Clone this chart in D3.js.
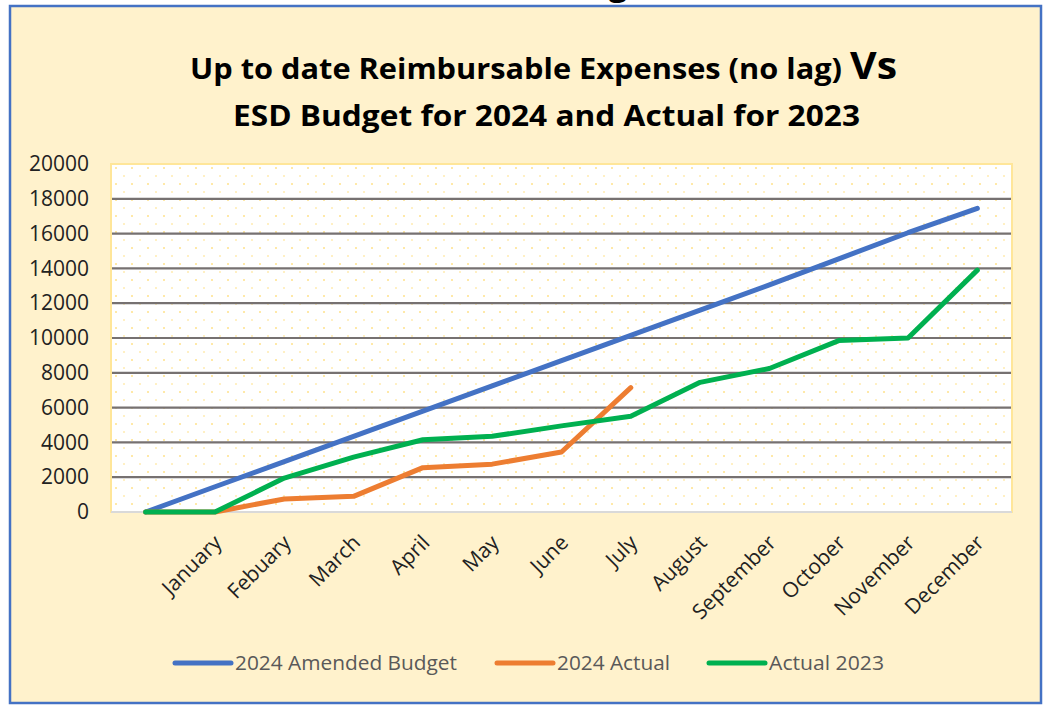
<!DOCTYPE html>
<html>
<head>
<meta charset="utf-8">
<script src="https://cdn.jsdelivr.net/npm/d3@7"></script>
<style>
  html, body { margin: 0; padding: 0; background: #fff; }
  svg { display: block; font-family: "Open Sans", "Noto Sans", sans-serif; }
</style>
</head>
<body>
<svg id="chart" width="1051" height="706"></svg>
<script>
// categories (first one is a blank starting point)
var months = ["", "January", "Febuary", "March", "April", "May", "June", "July",
  "August", "September", "October", "November", "December"];

var budget2024 = [0, 1450, 2900, 4350, 5800, 7250, 8700, 10150, 11600, 13050, 14550, 16050, 17450];
var actual2024 = [0, 0, 750, 900, 2550, 2750, 3450, 7150];
var actual2023 = [0, 0, 1950, 3150, 4150, 4350, 4950, 5500, 7450, 8250, 9850, 10000, 13900];

var yTicks = [0, 2000, 4000, 6000, 8000, 10000, 12000, 14000, 16000, 18000, 20000];

var seriesNames = ["2024 Amended Budget", "2024 Actual", "Actual 2023"];
var seriesColors = ["#4472C4", "#ED7D31", "#00B050"];

var svg = d3.select("#chart");

// outer chart area
svg.append("rect")
  .attr("x", 10).attr("y", 6)
  .attr("width", 1031).attr("height", 697)
  .attr("fill", "#FFF2CC")
  .attr("stroke", "#4472C4")
  .attr("stroke-width", 2.5);

// cut-off text above the chart (only its descender shows)
svg.append("text")
  .attr("x", 618).attr("y", -5)
  .attr("text-anchor", "middle")
  .attr("font-size", 34).attr("font-weight", "bold")
  .attr("fill", "#000")
  .text("g");

var plot = {left: 111, right: 1012, top: 164, bottom: 512};

var defs = svg.append("defs");
var pattern = defs.append("pattern")
  .attr("id", "dots")
  .attr("patternUnits", "userSpaceOnUse")
  .attr("width", 16).attr("height", 16)
  .attr("x", plot.left).attr("y", plot.top);
pattern.append("rect").attr("width", 16).attr("height", 16).attr("fill", "#fff");
pattern.append("rect").attr("x", 4).attr("y", 3).attr("width", 2).attr("height", 2).attr("fill", "#FFE9A8");
pattern.append("rect").attr("x", 12).attr("y", 11).attr("width", 2).attr("height", 2).attr("fill", "#FFF0C4");

svg.append("rect")
  .attr("x", plot.left).attr("y", plot.top)
  .attr("width", plot.right - plot.left).attr("height", plot.bottom - plot.top)
  .attr("fill", "url(#dots)")
  .attr("stroke", "#FFE699")
  .attr("stroke-width", 2);

var x = d3.scalePoint()
  .domain(d3.range(months.length))
  .range([plot.left, plot.right])
  .padding(0.5);

var y = d3.scaleLinear()
  .domain([0, 20000])
  .range([plot.bottom, plot.top]);

// gridlines
svg.append("g")
  .selectAll("line")
  .data(yTicks.filter(function(d) { return d > 0 && d < 20000; }))
  .enter().append("line")
    .attr("x1", plot.left + 1).attr("x2", plot.right - 1)
    .attr("y1", function(d) { return y(d); })
    .attr("y2", function(d) { return y(d); })
    .attr("stroke", "#767171")
    .attr("stroke-width", 2.2);

// x axis line
svg.append("line")
  .attr("x1", plot.left).attr("x2", plot.right)
  .attr("y1", plot.bottom).attr("y2", plot.bottom)
  .attr("stroke", "#D9D9D9")
  .attr("stroke-width", 2);

// y axis labels
var yAxis = svg.append("g")
  .attr("transform", "translate(" + (plot.left - 22) + ",0)")
  .call(d3.axisLeft(y).tickValues(yTicks).tickSize(0).tickPadding(0).tickFormat(d3.format("d")));
yAxis.select(".domain").remove();
yAxis.selectAll("text")
  .attr("font-family", "Open Sans")
  .attr("font-size", 21)
  .attr("fill", "#222");

// x axis labels
svg.append("g")
  .selectAll("text")
  .data(months)
  .enter().append("text")
    .attr("transform", function(d, i) {
      return "translate(" + (x(i) + 8) + "," + (plot.bottom + 32) + ") rotate(-45)";
    })
    .attr("text-anchor", "end")
    .attr("font-size", 21)
    .attr("fill", "#222")
    .text(function(d) { return d; });

// series lines
var line = d3.line()
  .x(function(d, i) { return x(i); })
  .y(function(d) { return y(d); });

var series = [budget2024, actual2024, actual2023];
svg.append("g")
  .selectAll("path")
  .data(series)
  .enter().append("path")
    .attr("d", line)
    .attr("fill", "none")
    .attr("stroke", function(d, i) { return seriesColors[i]; })
    .attr("stroke-width", 5)
    .attr("stroke-linejoin", "round")
    .attr("stroke-linecap", "round");

// title
var title = svg.append("text")
  .attr("x", 190).attr("y", 79)
  .attr("font-weight", "bold")
  .attr("fill", "#000");
title.append("tspan")
  .attr("font-size", 29)
  .attr("textLength", 660)
  .attr("lengthAdjust", "spacingAndGlyphs")
  .text("Up to date Reimbursable Expenses (no lag) ");
title.append("tspan")
  .attr("font-size", 38)
  .attr("textLength", 47)
  .attr("lengthAdjust", "spacingAndGlyphs")
  .text("Vs");

svg.append("text")
  .attr("x", 233).attr("y", 126)
  .attr("font-size", 29)
  .attr("font-weight", "bold")
  .attr("fill", "#000")
  .attr("textLength", 627)
  .attr("lengthAdjust", "spacingAndGlyphs")
  .text("ESD Budget for 2024 and Actual for 2023");

// legend
var legendX = [175, 497, 709];
var legendTextW = [222, 113, 115];
var legend = svg.append("g")
  .selectAll("g")
  .data(seriesNames)
  .enter().append("g")
    .attr("transform", function(d, i) { return "translate(" + legendX[i] + ",663)"; });
legend.append("line")
  .attr("x1", 0).attr("x2", 56)
  .attr("y1", 0).attr("y2", 0)
  .attr("stroke", function(d, i) { return seriesColors[i]; })
  .attr("stroke-width", 5)
  .attr("stroke-linecap", "round");
legend.append("text")
  .attr("x", 60).attr("y", 7)
  .attr("font-size", 20)
  .attr("fill", "#595959")
  .attr("textLength", function(d, i) { return legendTextW[i]; })
  .attr("lengthAdjust", "spacingAndGlyphs")
  .text(function(d) { return d; });
</script>
</body>
</html>
